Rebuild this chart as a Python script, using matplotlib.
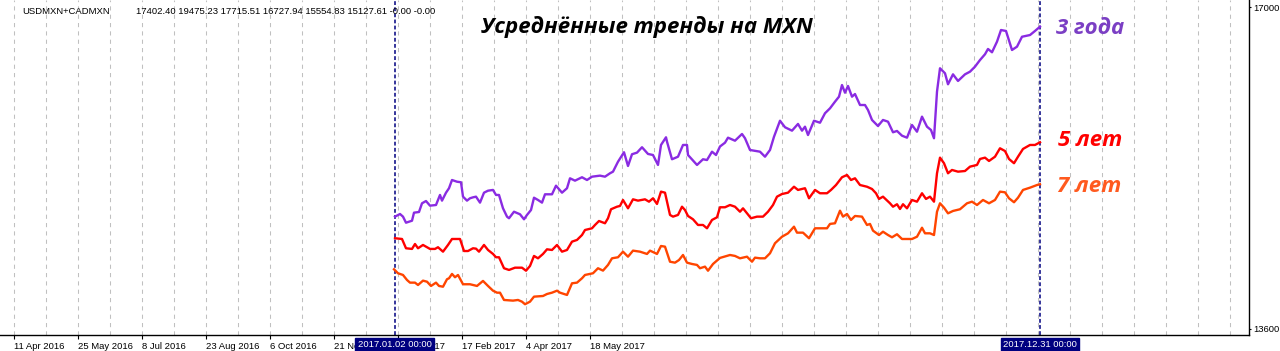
import matplotlib.pyplot as plt

# bars counted from 2017.01.02, prices of the averaged trend lines
purple_x = [0.5, 3, 4.5, 6, 9, 10, 12.5, 14, 16, 18, 21, 23, 24, 26, 27.5, 29, 31.5, 33.5, 34.5, 36.5,
            38, 39.5, 41, 43, 45, 47, 49.5, 51, 52.5, 54.5, 56.5, 57.5, 60, 63, 65, 66.5, 68.5, 70, 72, 74,
            75.5, 79, 81, 84, 86.5, 88, 90.5, 94, 96.5, 99, 103, 105.5, 108, 109.5, 112, 115, 117, 119,
            121.5, 124, 127, 129.5, 132, 133.5, 136, 136.5, 139, 142, 144.5, 146.5, 147, 151.5, 154.5,
            156.5, 159, 161, 163, 165.5, 167, 170.5, 174, 175.5, 178, 183, 185.5, 188, 190, 193, 195.5,
            199, 202, 204, 205.5, 207, 210, 213, 215.5, 218, 220.5, 222.5, 224, 225.5, 227, 229, 230.5,
            233, 235.5, 237, 239, 242, 244.5, 247, 249.5, 251.5, 254, 256.5, 259, 261.5, 264, 266.5,
            268.5, 270, 271.5, 273, 275.5, 277, 279.5, 282, 285.5, 288, 290.5, 293, 295.5, 297, 299,
            301.5, 303.5, 306, 309, 311.5, 314, 318, 320.5, 323]
purple_y = [14786, 14814, 14786, 14722, 14743, 14828, 14835, 14927, 14951, 14902, 14909, 15015, 14955,
            15039, 15086, 15173, 15155, 15149, 14997, 14955, 14980, 14990, 14997, 14934, 15039, 15060,
            15068, 15015, 15015, 14874, 14786, 14769, 14838, 14811, 14758, 14804, 14856, 14986, 14962,
            14934, 15022, 15022, 15113, 15039, 15086, 15191, 15166, 15202, 15173, 15208, 15219, 15208,
            15244, 15261, 15366, 15466, 15321, 15445, 15462, 15519, 15448, 15437, 15332, 15543, 15624,
            15578, 15392, 15419, 15543, 15543, 15437, 15332, 15392, 15384, 15472, 15437, 15527, 15567,
            15620, 15588, 15659, 15614, 15490, 15472, 15419, 15490, 15630, 15799, 15730, 15694, 15765,
            15694, 15736, 15648, 15799, 15778, 15878, 15930, 16000, 16053, 16176, 16095, 16166, 16053,
            16081, 15965, 15965, 15912, 15807, 15743, 15807, 15789, 15677, 15691, 15641, 15620, 15754,
            15683, 15842, 15736, 15701, 15614, 16106, 16353, 16300, 16184, 16289, 16219, 16289, 16317,
            16370, 16440, 16501, 16557, 16522, 16634, 16757, 16747, 16546, 16581, 16686, 16704, 16747,
            16792]

red_x = [0.5, 4, 6, 9, 10.5, 12, 14.5, 18, 20.5, 22, 24.5, 27, 29, 33, 35, 37, 39.5, 41, 42.5, 45, 47,
         49.5, 51, 52.5, 55, 57.5, 60.5, 64, 66, 68, 70, 72, 74.5, 76.5, 79, 81.5, 84, 86.5, 89, 91.5,
         94, 95.5, 99, 100.5, 102.5, 105.5, 107, 108.5, 111.5, 113, 114.5, 117, 119.5, 122, 125.5,
         127.5, 129.5, 131.5, 133.5, 135.5, 138, 139.5, 142, 144, 145.5, 147, 149.5, 152, 154.5, 156.5,
         159, 161.5, 163, 165.5, 168, 170.5, 173, 174.5, 178.5, 181.5, 184.5, 187, 189.5, 191.5, 194,
         197, 200, 202, 205.5, 207.5, 210.5, 213, 216.5, 218.5, 221, 224, 226.5, 228.5, 230.5, 233,
         236.5, 239, 241, 242.5, 244.5, 248, 249.5, 251.5, 253, 254.5, 256.5, 259, 261.5, 264, 266,
         268, 270, 271.5, 273, 275, 277, 279, 282, 285.5, 288, 291.5, 293, 295.5, 297.5, 300.5, 303,
         305.5, 307.5, 310, 312, 314.5, 318, 320.5, 323]
red_y = [14558, 14550, 14452, 14445, 14497, 14452, 14487, 14445, 14445, 14463, 14416, 14487, 14550,
         14550, 14423, 14423, 14452, 14448, 14416, 14487, 14434, 14392, 14357, 14357, 14241, 14223,
         14247, 14247, 14215, 14265, 14371, 14346, 14392, 14441, 14434, 14487, 14416, 14434, 14522,
         14540, 14592, 14645, 14663, 14698, 14740, 14716, 14769, 14864, 14891, 14899, 14962, 14874,
         14969, 14955, 14969, 14944, 14980, 14920, 15050, 15039, 14804, 14786, 14804, 14891, 14856,
         14793, 14758, 14698, 14698, 14663, 14751, 14779, 14885, 14885, 14909, 14891, 14838, 14874,
         14769, 14786, 14786, 14838, 14909, 14997, 15025, 15039, 15102, 15068, 15086, 14980, 15068,
         15033, 15033, 15068, 15120, 15202, 15226, 15173, 15191, 15120, 15102, 15078, 15033, 14973,
         14997, 14927, 14891, 14917, 14867, 14917, 14874, 14962, 14944, 15033, 14973, 14997, 14944,
         15244, 15409, 15350, 15244, 15279, 15261, 15268, 15314, 15332, 15395, 15409, 15374, 15419,
         15508, 15479, 15395, 15350, 15419, 15501, 15543, 15543, 15571]

orange_x = [0, 2, 4.5, 6.5, 8, 10.5, 12, 14.5, 16.5, 18.5, 21, 22.5, 24.5, 26.5, 27.5, 29, 30.5, 32,
            34.5, 38, 41.5, 44.5, 47, 49.5, 51.5, 53, 55, 59.5, 62, 64, 65.5, 68, 70, 74.5, 76.5, 79,
            81.5, 83, 86.5, 89, 91.5, 94, 95.5, 99.5, 102, 104.5, 107, 109, 112, 114.5, 117, 119.5, 123,
            126.5, 128, 131.5, 133.5, 135.5, 138, 140.5, 142.5, 144.5, 146.5, 149, 151.5, 153, 155.5,
            157, 159.5, 163, 168, 170.5, 173, 176.5, 179, 180.5, 183, 185.5, 188, 190.5, 194, 197, 200,
            201.5, 204.5, 207.5, 210.5, 216.5, 218, 220.5, 223, 224.5, 226.5, 228.5, 230.5, 234, 236.5,
            238, 239.5, 242.5, 244.5, 247, 249, 251.5, 254, 259, 261.5, 264, 265.5, 268, 270, 271.5,
            273, 275, 277, 279.5, 283, 286.5, 289, 291.5, 294.5, 297.5, 300.5, 303, 305.5, 307.5, 310,
            312, 314.5, 318, 321.5, 323]
orange_y = [14230, 14188, 14170, 14117, 14089, 14089, 14064, 14110, 14099, 14054, 14089, 14054, 14046,
            14125, 14135, 14181, 14146, 14170, 14072, 14072, 14054, 14107, 14054, 14004, 13983, 13983,
            13906, 13899, 13906, 13888, 13861, 13888, 13941, 13948, 13969, 13983, 14004, 13983, 13959,
            14082, 14089, 14135, 14170, 14188, 14241, 14216, 14276, 14346, 14357, 14416, 14363, 14427,
            14416, 14392, 14427, 14392, 14476, 14469, 14310, 14300, 14328, 14381, 14300, 14286, 14276,
            14241, 14258, 14215, 14286, 14350, 14381, 14371, 14346, 14363, 14310, 14353, 14346, 14346,
            14399, 14505, 14574, 14610, 14680, 14617, 14617, 14558, 14663, 14663, 14709, 14716, 14849,
            14786, 14814, 14751, 14793, 14786, 14698, 14709, 14638, 14592, 14627, 14592, 14568, 14600,
            14550, 14550, 14574, 14669, 14610, 14610, 14592, 14838, 14927, 14881, 14821, 14846, 14864,
            14927, 14944, 14909, 14962, 14927, 14962, 15050, 15043, 14980, 14938, 14986, 15068, 15092,
            15120, 15128]

date_ticks = [-190, -158, -126, -94, -62, -30, 2, 34, 66, 98]
date_labels = ["11 Apr 2016", "25 May 2016", "8 Jul 2016", "23 Aug 2016", "6 Oct 2016",
               "21 Nov 2016", "3 Jan 2017", "17 Feb 2017", "4 Apr 2017", "18 May 2017"]
grid_bars = list(range(-190, 428, 16))
price_ticks = [13600, 17000]
markers = [0.25, 323]
marker_labels = ["2017.01.02 00:00", "2017.12.31 00:00"]
header_values = "17402.40 19475.23 17715.51 16727.94 15554.83 15127.61 -0.00 -0.00"

small = dict(fontsize=6.8, family='Liberation Sans')

fig = plt.figure(figsize=(12.8, 3.51), dpi=100)
ax = fig.add_axes([0, 16 / 351, 1249 / 1280, 335 / 351])
ax.set_xlim(-197, 427.5)
ax.set_ylim(13536, 17074)

for b in grid_bars:
    ax.axvline(b, color='#c0c0c0', lw=0.75, dashes=(4, 4), zorder=1)
for b in markers:
    ax.axvline(b, color='#000080', lw=1.1, dashes=(2.5, 1.5), zorder=2)

ax.plot(purple_x, purple_y, color='#8a2be2', lw=1.7, zorder=3)
ax.plot(red_x, red_y, color='#ff0000', lw=1.7, zorder=3)
ax.plot(orange_x, orange_y, color='#ff4500', lw=1.7, zorder=3)

for side in ['top', 'left']:
    ax.spines[side].set_visible(False)
ax.spines['bottom'].set_linewidth(1)
ax.spines['right'].set_linewidth(1)

ax.yaxis.tick_right()
ax.set_yticks(price_ticks)
ax.set_yticklabels([str(p) for p in price_ticks], **small)
ax.tick_params(axis='y', length=1.5, pad=1.5)

ax.set_xticks(date_ticks)
ax.set_xticklabels(date_labels, **small)
ax.tick_params(axis='x', length=3, pad=2)
for lbl in ax.get_xticklabels():
    lbl.set_ha('left')

for b, txt in zip(markers, marker_labels):
    ax.annotate(txt, xy=(b, 0), xycoords=('data', 'axes fraction'), xytext=(0, -7),
                textcoords='offset points', ha='center', va='center', color='white',
                bbox=dict(boxstyle='square,pad=0.25', fc='#000080', ec='#000080'), **small)

fig.text(22 / 1280, 1 - 11 / 351, "USDMXN+CADMXN", va='center', **small)
fig.text(136 / 1280, 1 - 11 / 351, header_values, va='center', **small)

bold_it = dict(fontweight='bold', style='italic', family=['Open Sans', 'DejaVu Sans'])
fig.text(647 / 1280, 1 - 27 / 351, "Усреднённые тренды на MXN", fontsize=16, ha='center',
         va='center', color='black', **bold_it)
fig.text(1056 / 1280, 1 - 28 / 351, "3 года", fontsize=16, va='center', color='#7b3fc4', **bold_it)
fig.text(1058 / 1280, 1 - 140 / 351, "5 лет", fontsize=16, va='center', color='#ff0000', **bold_it)
fig.text(1057 / 1280, 1 - 187 / 351, "7 лет", fontsize=16, va='center', color='#ff5a1f', **bold_it)

fig.savefig('out.png', dpi=100)
